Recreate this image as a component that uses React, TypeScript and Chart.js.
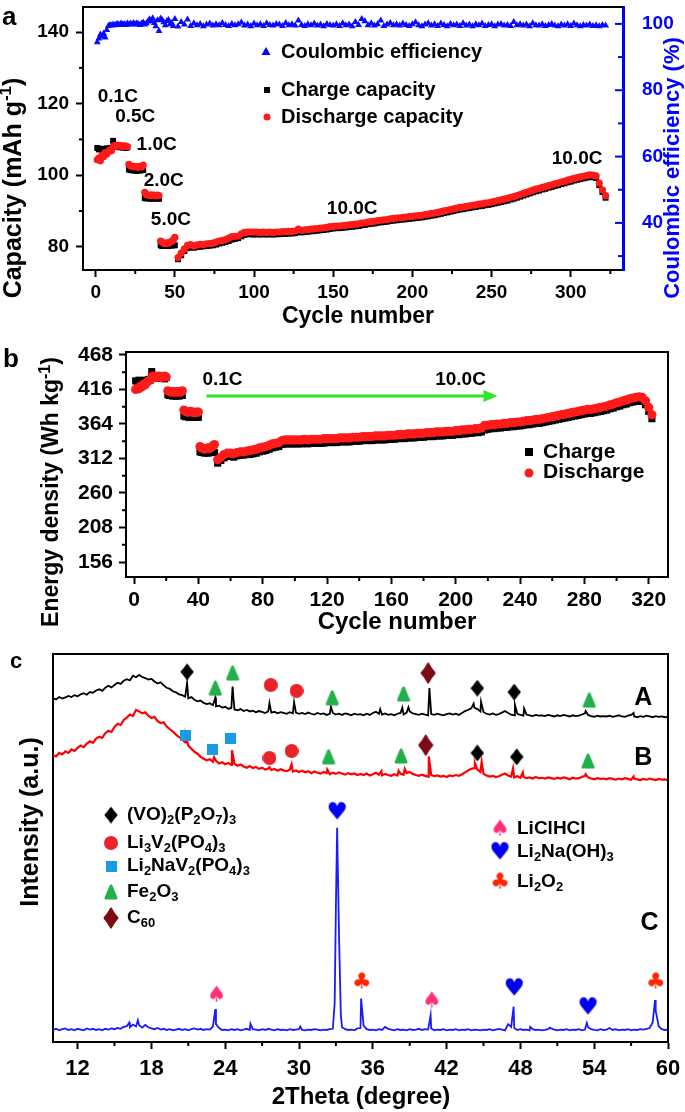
import React, { useEffect, useRef } from 'react';
import { Chart, registerables } from 'chart.js';

Chart.register(...registerables);

const FONT = "'Liberation Sans', Arial, Helvetica, sans-serif";

// ---------------- Panel a / b : cycle numbers ----------------
const cycleNumbers: number[] = [];
for (let c = 1; c <= 50; c++) cycleNumbers.push(c);
for (let c = 52; c <= 322; c += 2) cycleNumbers.push(c);

// Panel a: capacity (mAh g-1)
const capDischarge = [
  104.3, 104.8, 104.0, 105.6, 105.2, 106.3, 105.9, 106.6, 107.0, 106.8,
  108.0, 108.3, 108.1, 108.4, 108.2, 108.3, 108.0, 108.2, 108.1, 108.0,
  103.0, 102.6, 102.4, 102.5, 102.3, 102.4, 102.2, 102.5, 102.3, 102.8,
  95.2, 94.6, 94.4, 94.3, 94.5, 94.3, 94.4, 94.2, 94.4, 94.3,
  81.6, 81.3, 81.0, 80.9, 81.1, 81.0, 81.3, 81.5, 81.9, 82.6,
  77.0, 78.2, 79.4, 80.4, 80.6, 80.2, 80.5, 80.7, 80.6, 80.8,
  80.9, 81.0, 81.3, 81.6, 81.8, 82.0, 82.4, 82.8, 82.9, 83.0,
  83.6, 84.0, 84.1, 84.1, 84.1, 84.1, 84.0, 84.1, 84.0, 84.1,
  84.0, 84.1, 84.1, 84.2, 84.2, 84.3, 84.3, 84.4, 84.9, 84.6,
  84.7, 84.8, 84.9, 85.0, 85.1, 85.2, 85.3, 85.4, 85.6, 85.7,
  85.8, 85.8, 85.9, 86.0, 86.1, 86.2, 86.3, 86.4, 86.6, 86.7,
  86.9, 87.0, 87.1, 87.3, 87.4, 87.5, 87.6, 87.8, 87.9, 88.0,
  88.1, 88.2, 88.3, 88.4, 88.5, 88.6, 88.7, 88.8, 89.0, 89.1,
  89.3, 89.4, 89.6, 89.8, 90.0, 90.2, 90.4, 90.6, 90.8, 91.0,
  91.1, 91.3, 91.4, 91.6, 91.7, 91.9, 92.0, 92.2, 92.3, 92.5,
  92.7, 92.9, 93.1, 93.3, 93.5, 93.8, 94.0, 94.3, 94.6, 94.9,
  95.2, 95.5, 95.8, 96.1, 96.3, 96.6, 96.8, 97.1, 97.3, 97.6,
  97.8, 98.1, 98.3, 98.6, 98.8, 99.1, 99.3, 99.5, 99.7, 99.9,
  100.1, 100.0, 99.8, 97.8, 95.9, 94.3,
];
const capCharge = [
  107.6, 107.2, 107.4, 106.9, 107.3, 107.1, 107.5, 107.2, 107.6, 107.3,
  109.6, 108.2, 107.9, 108.1, 107.8, 108.0, 107.7, 107.9, 107.6, 107.8,
  101.6, 101.4, 101.5, 101.3, 101.4, 101.2, 101.4, 101.3, 101.5, 101.4,
  93.6, 93.5, 93.7, 93.4, 93.6, 93.5, 93.4, 93.6, 93.5, 93.4,
  80.4, 80.2, 80.5, 80.3, 80.4, 80.2, 80.5, 80.3, 80.6, 80.4,
  76.5, 77.6, 78.8, 79.6, 79.9, 79.7, 79.9, 80.0, 80.1, 80.2,
  80.3, 80.4, 80.6, 80.9, 81.1, 81.3, 81.6, 82.0, 82.2, 82.4,
  82.9, 83.3, 83.5, 83.5, 83.4, 83.5, 83.4, 83.5, 83.4, 83.5,
  83.4, 83.5, 83.5, 83.6, 83.6, 83.7, 83.7, 83.8, 84.2, 84.0,
  84.1, 84.2, 84.3, 84.4, 84.5, 84.6, 84.7, 84.8, 85.0, 85.1,
  85.2, 85.2, 85.3, 85.4, 85.5, 85.6, 85.7, 85.8, 86.0, 86.1,
  86.3, 86.4, 86.5, 86.7, 86.8, 86.9, 87.0, 87.2, 87.3, 87.4,
  87.5, 87.6, 87.7, 87.8, 87.9, 88.0, 88.1, 88.2, 88.4, 88.5,
  88.7, 88.8, 89.0, 89.2, 89.4, 89.6, 89.8, 90.0, 90.2, 90.4,
  90.5, 90.7, 90.8, 91.0, 91.1, 91.3, 91.4, 91.6, 91.7, 91.9,
  92.1, 92.3, 92.5, 92.7, 92.9, 93.2, 93.4, 93.7, 94.0, 94.3,
  94.6, 94.9, 95.2, 95.5, 95.7, 96.0, 96.2, 96.5, 96.7, 97.0,
  97.2, 97.5, 97.7, 98.0, 98.2, 98.5, 98.7, 98.9, 99.1, 99.3,
  99.5, 99.4, 99.2, 97.2, 95.3, 93.7,
];
const coulombicEff = [
  94.5, 95.6, 96.8, 96.2, 97.1, 95.9, 98.2, 99.4, 99.7, 99.5,
  99.8, 99.6, 99.9, 100.0, 99.7, 100.1, 99.8, 100.0, 99.7, 100.2,
  99.8, 100.1, 99.9, 100.3, 99.8, 100.2, 99.9, 99.7, 100.1, 100.4,
  99.8, 100.2, 100.7, 101.4, 100.9, 101.7, 100.3, 99.3, 101.1, 97.9,
  101.6, 101.2, 100.5, 99.6, 100.9, 101.2, 99.9, 100.3, 99.4, 101.5,
  99.2, 100.6, 99.8, 101.3, 99.4, 100.2, 99.6, 100.0, 99.3, 99.8,
  100.1, 99.5, 99.9, 99.6, 100.3, 99.7, 99.4, 100.0, 99.6, 99.9,
  100.4, 99.5, 99.8, 99.3, 100.1, 99.6, 99.9, 99.4, 100.2, 99.7,
  99.5, 100.0, 99.8, 99.4, 100.3, 99.6, 99.9, 99.5, 101.0, 99.7,
  99.4, 99.9, 99.6, 100.1, 99.5, 99.8, 99.3, 100.0, 99.7, 99.5,
  99.9, 99.4, 100.2, 99.6, 99.8, 99.3, 100.6, 99.7, 101.5, 100.8,
  99.6, 100.2, 99.5, 99.9, 101.0, 99.4, 99.8, 100.3, 99.6, 99.9,
  99.5, 100.1, 99.7, 99.4, 99.9, 100.5, 99.6, 99.3, 99.8, 100.2,
  99.5, 99.9, 99.4, 100.1, 99.7, 99.3, 100.0, 99.6, 99.8, 99.4,
  100.2, 99.5, 99.8, 99.3, 99.9, 99.6, 100.1, 99.4, 99.7, 99.9,
  99.3, 99.8, 100.0, 99.5, 99.7, 99.4, 100.6, 99.6, 99.9, 99.5,
  99.8, 99.3, 100.2, 99.6, 99.5, 99.9, 99.4, 99.7, 100.0, 99.5,
  99.3, 99.8, 99.5, 99.9, 99.4, 100.1, 99.6, 99.3, 99.7, 99.5,
  99.8, 99.4, 99.6, 99.3, 99.7, 99.5,
];
const capTicks = [80, 100, 120, 140];
const capMinor = [90, 110, 130];
const ceTicks = [40, 60, 80, 100];
const ceMinor = [30, 50, 70, 90];
const cycleTicksA = [0, 50, 100, 150, 200, 250, 300];
const cycleMinorA = [25, 75, 125, 175, 225, 275, 325];
const rateLabelsA = ['0.1C', '0.5C', '1.0C', '2.0C', '5.0C', '10.0C', '10.0C'];
const rateLabelCycleA = [14, 25, 38.5, 43, 47.5, 162, 304];
const rateLabelCapA = [121.8, 116.3, 108.4, 98.4, 87.4, 90.7, 104.5];

// Panel b: energy density (Wh kg-1)
const energyDischarge = [
  416, 418, 417, 421, 420, 424, 423, 427, 429, 430,
  435, 436, 434, 436, 435, 436, 434, 435, 436, 435,
  414, 413, 412, 413, 412, 413, 412, 413, 412, 414,
  385, 383, 382, 382, 383, 382, 382, 381, 382, 382,
  330, 328, 327, 326, 327, 328, 327, 329, 331, 333,
  310, 314, 318, 320, 320, 319, 321, 322, 322, 323,
  324, 325, 326, 328, 329, 330, 332, 334, 335, 336,
  339, 340, 340, 340, 340, 340, 340, 341, 340, 341,
  341, 341, 341, 342, 342, 342, 342, 342, 343, 343,
  343, 343, 344, 344, 344, 345, 345, 345, 345, 346,
  346, 346, 346, 347, 347, 347, 348, 348, 348, 349,
  349, 349, 350, 350, 350, 351, 351, 351, 352, 352,
  352, 353, 353, 353, 354, 354, 355, 355, 356, 356,
  357, 357, 358, 362, 362, 363, 363, 364, 364, 365,
  365, 366, 366, 367, 367, 368, 369, 369, 370, 371,
  371, 372, 373, 374, 375, 376, 377, 378, 379, 380,
  381, 382, 383, 384, 385, 386, 386, 387, 388, 389,
  390, 391, 393, 394, 396, 397, 399, 400, 402, 403,
  404, 405, 404, 399, 389, 378,
];
const energyCharge = [
  429, 428, 430, 427, 429, 428, 430, 429, 431, 430,
  443, 436, 434, 435, 433, 435, 433, 434, 432, 434,
  408, 407, 408, 406, 407, 406, 407, 406, 408, 407,
  376, 375, 376, 374, 375, 374, 375, 374, 375, 374,
  322, 321, 322, 320, 321, 320, 322, 321, 322, 321,
  305, 309, 313, 315, 315, 314, 316, 317, 317, 318,
  318, 319, 320, 322, 323, 324, 326, 328, 329, 330,
  333, 334, 334, 334, 334, 334, 334, 335, 334, 335,
  335, 335, 335, 335, 336, 336, 336, 336, 337, 337,
  337, 337, 338, 338, 338, 339, 339, 339, 339, 340,
  340, 340, 340, 341, 341, 341, 342, 342, 342, 343,
  343, 343, 344, 344, 344, 345, 345, 345, 346, 346,
  346, 347, 347, 347, 348, 348, 349, 349, 350, 350,
  351, 351, 352, 355, 356, 357, 357, 358, 358, 359,
  359, 360, 360, 361, 361, 362, 363, 363, 364, 365,
  365, 366, 367, 368, 369, 370, 371, 372, 373, 374,
  375, 376, 377, 378, 379, 380, 380, 381, 382, 383,
  384, 385, 387, 388, 390, 391, 393, 394, 396, 397,
  398, 399, 398, 393, 383, 372,
];
const energyTicks = [156, 208, 260, 312, 364, 416, 468];
const energyMinor = [182, 234, 286, 338, 390, 442];
const cycleTicksB = [0, 40, 80, 120, 160, 200, 240, 280, 320];
const cycleMinorB = [20, 60, 100, 140, 180, 220, 260, 300];
const rateLabelsB = ['0.1C', '10.0C'];
const rateLabelCycleB = [55, 203];
const rateLabelEnergyB = [430, 430];
const arrowCyclesB = [45, 226];
const arrowEnergyB = 406;

// ---------------- Panel c : XRD ----------------
const thetaStart = 10;
const thetaStep = 0.25;
const xrdA = [
  88.6, 88.3, 88.9, 88.5, 88.8, 89.2, 88.9, 89.4, 89.1, 89.6, 89.9, 89.5, 90.2, 90.0, 90.6, 90.9, 90.5, 91.3, 91.8, 91.4,
  92.0, 92.6, 92.3, 93.1, 93.5, 93.2, 94.4, 94.0, 94.6, 94.1, 93.8, 93.4, 93.6, 92.9, 92.4, 92.7, 91.9, 91.3, 91.0, 90.4,
  90.1, 89.6, 89.4, 89.0, 88.6, 88.9, 88.2, 87.8, 88.0, 87.4, 87.1, 87.3, 86.8, 86.5, 86.7, 86.2, 86.4, 85.9, 86.1, 85.7,
  85.5, 85.8, 85.3, 85.6, 85.2, 85.4, 85.0, 85.3, 85.1, 84.8, 85.2, 84.9, 85.1, 84.7, 85.0, 84.8, 84.6, 85.0, 84.7, 84.9,
  84.6, 84.8, 84.5, 84.9, 84.6, 84.4, 84.8, 84.5, 84.7, 84.3, 84.6, 84.8, 84.4, 84.6, 84.3, 84.7, 84.5, 84.2, 84.6, 84.4,
  84.5, 84.2, 84.6, 84.3, 84.8, 85.1, 84.6, 84.4, 84.7, 84.3, 84.5, 84.2, 84.6, 84.8, 84.4, 84.9, 85.2, 84.7, 84.5, 84.3,
  84.6, 84.4, 84.2, 84.5, 84.3, 84.6, 84.4, 84.2, 84.5, 84.7, 84.4, 84.6, 84.3, 84.8, 85.3, 85.6, 86.0, 86.2, 85.8, 85.2,
  85.0, 84.6, 84.4, 84.7, 84.3, 84.5, 84.9, 85.3, 84.8, 84.4, 84.2, 84.6, 84.3, 84.1, 84.4, 84.2, 84.0, 84.3, 84.1, 84.2,
  84.0, 84.3, 84.1, 83.9, 84.2, 84.0, 84.3, 84.1, 83.9, 84.2, 84.0, 84.1, 84.4, 84.7, 84.3, 84.0, 83.8, 84.1, 83.9, 84.0,
  83.9, 84.1, 83.8, 84.0, 84.2, 83.9, 83.8, 84.1, 84.3, 83.9, 83.7, 84.0, 83.8, 84.1, 83.9, 83.7, 84.0, 83.8, 83.9, 83.7,
  83.8,
];
const peaksAx = [20.9, 23.2, 24.6, 27.6, 29.6, 32.6, 36.6, 38.4, 38.9, 40.6, 44.2, 44.8, 47.55, 48.3, 53.3, 57.2];
const peaksAy = [92.6, 88.8, 91.6, 87.4, 87.6, 86.4, 85.8, 86.2, 86.3, 91.2, 87.2, 87.7, 87.0, 86.0, 85.3, 84.8];

const xrdB = [
  74.0, 73.6, 74.5, 74.1, 74.9, 74.5, 75.4, 75.0, 75.8, 76.4, 76.0, 76.9, 77.5, 77.1, 78.2, 78.7, 78.4, 79.6, 80.2, 79.9,
  81.2, 82.0, 81.7, 83.0, 83.6, 84.4, 84.0, 85.6, 85.2, 84.7, 85.0, 84.1, 83.5, 83.8, 82.7, 82.2, 82.4, 81.3, 80.6, 80.0,
  79.2, 78.6, 78.0, 77.2, 76.4, 75.6, 74.8, 74.3, 73.5, 73.0, 72.6, 72.9, 72.2, 72.5, 71.8, 72.1, 71.6, 71.9, 71.4, 71.7,
  71.2, 71.5, 71.0, 70.7, 71.1, 70.6, 70.9, 70.4, 70.7, 70.2, 70.5, 70.1, 70.4, 69.9, 70.3, 70.0, 69.8, 70.2, 69.7, 70.0,
  69.6, 69.9, 69.5, 69.8, 69.3, 69.7, 69.4, 69.2, 69.6, 69.3, 69.0, 69.4, 69.1, 69.5, 69.2, 68.9, 69.3, 69.0, 69.2, 68.8,
  69.1, 68.8, 69.2, 68.7, 69.0, 69.4, 68.9, 68.7, 69.1, 68.8, 68.6, 69.0, 68.7, 69.2, 68.9, 69.3, 69.6, 69.1, 68.8, 68.6,
  68.9, 68.6, 68.4, 68.8, 68.5, 68.7, 68.4, 68.6, 68.3, 68.7, 68.5, 68.8, 68.6, 69.0, 69.5, 70.0, 70.4, 70.6, 70.2, 69.6,
  69.1, 68.7, 68.4, 68.6, 68.3, 68.5, 68.9, 69.2, 68.7, 68.4, 68.2, 68.5, 68.1, 68.3, 68.0, 68.2, 67.9, 68.3, 68.0, 68.1,
  67.9, 68.2, 68.0, 67.8, 68.1, 67.9, 68.2, 68.0, 67.7, 68.1, 67.9, 68.0, 68.3, 68.6, 68.2, 67.9, 67.7, 68.0, 67.8, 67.9,
  67.7, 68.0, 67.8, 67.6, 67.9, 67.7, 68.0, 67.8, 67.6, 67.9, 67.7, 67.5, 67.8, 67.6, 67.9, 67.7, 67.5, 67.8, 67.6, 67.7,
  67.5,
];
const peaksBx = [20.8, 23.1, 24.55, 27.6, 29.4, 32.3, 36.7, 38.1, 38.6, 40.55, 44.3, 44.85, 47.4, 48.2, 53.3, 57.2];
const peaksBy = [78.8, 73.4, 75.2, 70.8, 71.6, 70.2, 69.8, 69.9, 70.4, 73.6, 71.9, 72.2, 70.5, 69.5, 69.0, 68.4];

const xrdC = [
  3.1, 3.4, 3.0, 3.3, 3.5, 3.1, 3.3, 3.0, 3.4, 3.2, 3.0, 3.5, 3.2, 3.4, 3.1, 3.3, 3.0, 3.4, 3.2, 3.5,
  3.3, 3.6, 3.4, 3.9, 4.1, 3.8, 4.5, 4.0, 4.3, 3.7, 4.4, 3.8, 3.5, 3.3, 3.6, 3.2, 3.4, 3.1, 3.3, 3.0,
  3.2, 3.4, 3.1, 3.3, 3.0, 3.3, 3.5, 3.2, 3.4, 3.1, 3.3, 3.2, 4.0, 4.6, 3.6, 3.1, 3.2, 3.0, 3.3, 3.1,
  3.3, 3.0, 3.2, 3.4, 3.1, 3.3, 3.2, 3.0, 3.3, 3.1, 3.4, 3.2, 3.0, 3.3, 3.1, 3.2, 3.0, 3.3, 3.1, 3.2,
  3.3, 3.1, 3.0, 3.2, 3.1, 3.3, 3.2, 3.0, 3.2, 3.1, 3.3, 3.4, 35.0, 28.0, 3.8, 3.3, 3.1, 3.2, 3.0, 3.5,
  3.6, 4.2, 3.3, 3.1, 3.2, 3.0, 3.3, 3.1, 3.9, 3.4, 3.2, 3.0, 3.3, 3.1, 3.2, 3.0, 3.3, 3.1, 3.2, 3.4,
  3.1, 3.3, 3.2, 3.5, 3.0, 3.2, 3.1, 3.3, 3.0, 3.2, 3.1, 3.3, 3.0, 3.2, 3.1, 3.3, 3.0, 3.2, 3.1, 3.0,
  3.2, 3.1, 3.3, 3.0, 3.2, 3.4, 3.2, 3.0, 4.6, 3.9, 3.6, 3.1, 3.3, 3.1, 3.2, 3.0, 3.3, 3.1, 3.2, 3.0,
  3.1, 3.3, 3.5, 3.2, 3.0, 3.2, 3.1, 3.3, 3.0, 3.2, 3.1, 3.3, 3.0, 3.2, 3.8, 3.3, 3.1, 3.0, 3.3, 3.1,
  3.2, 3.6, 3.1, 3.3, 3.0, 3.2, 3.1, 3.3, 3.0, 3.2, 3.1, 3.3, 3.2, 3.4, 3.6, 5.0, 8.0, 4.0, 3.3, 3.1,
  3.2,
];
const peaksCx = [16.2, 16.9, 23.2, 26.05, 30.1, 32.9, 33.1, 33.4, 35.05, 40.7, 47.45, 48.8, 50.4, 53.4, 58.95];
const peaksCy = [5.0, 5.6, 8.5, 4.7, 4.0, 10.0, 55.2, 7.0, 11.2, 6.9, 9.1, 3.9, 3.7, 4.9, 10.8];

const thetaTicks = [12, 18, 24, 30, 36, 42, 48, 54, 60];
const thetaMinor = [15, 21, 27, 33, 39, 45, 51, 57];

// phase markers: [2theta, intensity]
const markVOP = [[20.9, 95.4], [44.5, 91.2], [47.5, 90.2], [44.5, 74.5], [47.7, 73.5]];
const markLVP = [[27.7, 92.0], [29.8, 90.5], [27.6, 73.2], [29.4, 75.0]];
const markLNVP = [[20.8, 78.9], [23.0, 75.3], [24.4, 78.1]];
const markFe2O3 = [[23.2, 91.2], [24.6, 95.1], [32.7, 88.7], [38.5, 89.7], [53.6, 88.1], [32.4, 73.5], [38.3, 73.7], [53.5, 72.4]];
const markC60 = [[40.5, 95.1], [40.3, 76.5]];
const markLiClHCl = [[23.3, 12.1], [40.8, 10.6]];
const markLi2NaOH3 = [[33.1, 59.3], [47.5, 13.9], [53.5, 9.0]];
const markLi2O2 = [[35.1, 15.5], [59.0, 15.5]];
const patternNames = ['A', 'B', 'C'];
const patternLabelX = [58.0, 58.0, 58.5];
const patternLabelY = [88.7, 73.2, 30.7];

type Part = { t: string; s?: 'sub' | 'sup' };
const legendLeftC: Part[][] = [
  [{ t: '(VO)' }, { t: '2', s: 'sub' }, { t: '(P' }, { t: '2', s: 'sub' }, { t: 'O' }, { t: '7', s: 'sub' }, { t: ')' }, { t: '3', s: 'sub' }],
  [{ t: 'Li' }, { t: '3', s: 'sub' }, { t: 'V' }, { t: '2', s: 'sub' }, { t: '(PO' }, { t: '4', s: 'sub' }, { t: ')' }, { t: '3', s: 'sub' }],
  [{ t: 'Li' }, { t: '2', s: 'sub' }, { t: 'NaV' }, { t: '2', s: 'sub' }, { t: '(PO' }, { t: '4', s: 'sub' }, { t: ')' }, { t: '3', s: 'sub' }],
  [{ t: 'Fe' }, { t: '2', s: 'sub' }, { t: 'O' }, { t: '3', s: 'sub' }],
  [{ t: 'C' }, { t: '60', s: 'sub' }],
];
const legendRightC: Part[][] = [
  [{ t: 'LiClHCl' }],
  [{ t: 'Li' }, { t: '2', s: 'sub' }, { t: 'Na(OH)' }, { t: '3', s: 'sub' }],
  [{ t: 'Li' }, { t: '2', s: 'sub' }, { t: 'O' }, { t: '2', s: 'sub' }],
];

// ---------------- helpers ----------------
function rich(ctx: CanvasRenderingContext2D, parts: Part[], x: number, y: number, size: number, color: string,
  align: 'left' | 'center' = 'center', rot = 0) {
  ctx.save();
  ctx.translate(x, y);
  if (rot) ctx.rotate(rot);
  ctx.fillStyle = color;
  ctx.textBaseline = 'middle';
  ctx.textAlign = 'left';
  const fontFor = (p: Part) => `bold ${p.s ? Math.round(size * 0.68) : size}px ${FONT}`;
  let total = 0;
  for (const p of parts) { ctx.font = fontFor(p); total += ctx.measureText(p.t).width; }
  let cx = align === 'center' ? -total / 2 : 0;
  for (const p of parts) {
    ctx.font = fontFor(p);
    const dy = p.s === 'sub' ? size * 0.28 : p.s === 'sup' ? -size * 0.3 : 0;
    ctx.fillText(p.t, cx, dy);
    cx += ctx.measureText(p.t).width;
  }
  ctx.restore();
}

function seg(ctx: CanvasRenderingContext2D, x1: number, y1: number, x2: number, y2: number) {
  ctx.beginPath(); ctx.moveTo(x1, y1); ctx.lineTo(x2, y2); ctx.stroke();
}

function letter(ctx: CanvasRenderingContext2D, s: string, x: number, y: number, size: number) {
  ctx.save();
  ctx.font = `bold ${size}px ${FONT}`;
  ctx.fillStyle = '#000';
  ctx.textAlign = 'left';
  ctx.textBaseline = 'alphabetic';
  ctx.fillText(s, x, y);
  ctx.restore();
}

function mkCanvas(w: number, h: number) {
  const c = document.createElement('canvas');
  c.width = w; c.height = h;
  return c;
}
function diamondMark(w: number, h: number, color: string) {
  const c = mkCanvas(w, h); const g = c.getContext('2d')!;
  g.fillStyle = color; g.strokeStyle = color; g.lineJoin = 'round'; g.lineWidth = 2;
  g.beginPath();
  g.moveTo(w / 2, 1.5);
  g.quadraticCurveTo(w * 0.68, h * 0.32, w - 1.5, h / 2);
  g.quadraticCurveTo(w * 0.68, h * 0.68, w / 2, h - 1.5);
  g.quadraticCurveTo(w * 0.32, h * 0.68, 1.5, h / 2);
  g.quadraticCurveTo(w * 0.32, h * 0.32, w / 2, 1.5);
  g.closePath();
  g.fill(); g.stroke();
  return c;
}
function triangleMark(w: number, h: number, color: string) {
  const c = mkCanvas(w, h); const g = c.getContext('2d')!;
  g.fillStyle = color; g.strokeStyle = color; g.lineJoin = 'round'; g.lineWidth = 3;
  g.beginPath(); g.moveTo(w / 2, 2); g.lineTo(w - 2, h - 2); g.lineTo(2, h - 2); g.closePath();
  g.fill(); g.stroke();
  return c;
}
function circleMark(d: number, color: string) {
  const c = mkCanvas(d, d); const g = c.getContext('2d')!;
  g.fillStyle = color; g.beginPath(); g.arc(d / 2, d / 2, d / 2, 0, Math.PI * 2); g.fill();
  return c;
}
function squareMark(s: number, color: string) {
  const c = mkCanvas(s, s); const g = c.getContext('2d')!;
  g.fillStyle = color; g.fillRect(0, 0, s, s);
  return c;
}
function glyphMark(ch: string, size: number, color: string) {
  const c = mkCanvas(Math.round(size * 0.95), Math.round(size * 1.05)); const g = c.getContext('2d')!;
  g.fillStyle = color; g.font = `${size}px 'DejaVu Sans'`;
  g.textAlign = 'center'; g.textBaseline = 'middle';
  g.fillText(ch, c.width / 2, c.height / 2 + 1);
  return c;
}

function noPad(s: any) {
  s.paddingLeft = 0; s.paddingRight = 0; s.paddingTop = 0; s.paddingBottom = 0;
}
function xAxis(min: number, max: number, ticks: number[], size: number, padding: number, height: number) {
  return {
    type: 'linear', position: 'bottom', min, max,
    afterBuildTicks: (s: any) => { s.ticks = ticks.map((v) => ({ value: v })); },
    afterFit: (s: any) => { s.height = height; noPad(s); },
    ticks: { color: '#000', font: { family: FONT, size, weight: 'bold' }, padding, maxRotation: 0, autoSkip: false },
    grid: { display: true, drawOnChartArea: false, drawTicks: true, tickLength: 7, tickWidth: 2, tickColor: '#000' },
    border: { display: true, color: '#000', width: 2 },
  };
}
function yAxis(min: number, max: number, ticks: number[], size: number, padding: number, width: number) {
  return {
    type: 'linear', position: 'left', min, max,
    afterBuildTicks: (s: any) => { s.ticks = ticks.map((v) => ({ value: v })); },
    afterFit: (s: any) => { s.width = width; noPad(s); },
    ticks: { color: '#000', font: { family: FONT, size, weight: 'bold' }, padding, autoSkip: false },
    grid: { display: true, drawOnChartArea: false, drawTicks: true, tickLength: 7, tickWidth: 2, tickColor: '#000' },
    border: { display: true, color: '#000', width: 2 },
  };
}
const pts = (xs: number[], ys: number[]) => xs.map((x, i) => ({ x, y: ys[i] }));

function xrdLine(vals: number[], px: number[], py: number[]) {
  const grid = vals.map((v, i) => ({ x: thetaStart + i * thetaStep, y: v }));
  return grid.concat(pts(px, py)).sort((a, b) => a.x - b.x);
}

// ---------------- chart configs ----------------
function configA(): any {
  const decor = {
    id: 'decorA',
    afterDraw(chart: any) {
      const { ctx, chartArea: ca, scales } = chart;
      const x = scales.x, y = scales.y, y1 = scales.y1;
      ctx.save();
      ctx.strokeStyle = '#000'; ctx.lineWidth = 2;
      seg(ctx, ca.left - 1, ca.top, ca.right, ca.top);
      cycleMinorA.forEach((v) => { const p = x.getPixelForValue(v); seg(ctx, p, ca.bottom, p, ca.bottom + 4); });
      capMinor.forEach((v) => { const p = y.getPixelForValue(v); seg(ctx, ca.left - 4, p, ca.left, p); });
      ctx.strokeStyle = '#0000ff';
      ceTicks.forEach((v) => { const p = y1.getPixelForValue(v); seg(ctx, ca.right - 8, p, ca.right, p); });
      ceMinor.forEach((v) => { const p = y1.getPixelForValue(v); seg(ctx, ca.right - 5, p, ca.right, p); });
      rateLabelsA.forEach((s, i) => rich(ctx, [{ t: s }], x.getPixelForValue(rateLabelCycleA[i]), y.getPixelForValue(rateLabelCapA[i]), 19, '#000'));
      // legend
      ctx.fillStyle = '#0000ff';
      ctx.beginPath(); ctx.moveTo(266, 47); ctx.lineTo(270.5, 55); ctx.lineTo(261.5, 55); ctx.closePath(); ctx.fill();
      rich(ctx, [{ t: 'Coulombic efficiency' }], 281, 52, 20, '#000', 'left');
      ctx.fillStyle = '#000'; ctx.fillRect(264, 87, 6, 6);
      rich(ctx, [{ t: 'Charge capacity' }], 281, 90, 20, '#000', 'left');
      ctx.fillStyle = '#ff1a1a'; ctx.beginPath(); ctx.arc(267, 117, 3.5, 0, Math.PI * 2); ctx.fill();
      rich(ctx, [{ t: 'Discharge capacity' }], 281, 117, 20, '#000', 'left');
      // titles
      rich(ctx, [{ t: 'Cycle number' }], 358, 317, 23, '#000');
      rich(ctx, [{ t: 'Capacity (mAh g' }, { t: '-1', s: 'sup' }, { t: ')' }], 14, 188, 25, '#000', 'center', -Math.PI / 2);
      rich(ctx, [{ t: 'Coulombic efficiency (%)' }], 673, 168, 22, '#0000ff', 'center', -Math.PI / 2);
      letter(ctx, 'a', 2, 25, 26);
      ctx.restore();
    },
  };
  return {
    type: 'scatter',
    data: {
      datasets: [
        { data: pts(cycleNumbers, capDischarge), yAxisID: 'y', pointStyle: 'circle', pointRadius: 3.6, pointBackgroundColor: '#ff1a1a', pointBorderColor: '#ff1a1a', pointBorderWidth: 0 },
        { data: pts(cycleNumbers, capCharge), yAxisID: 'y', pointStyle: 'rect', pointRadius: 4.2, pointBackgroundColor: '#000', pointBorderColor: '#000', pointBorderWidth: 0 },
        { data: pts(cycleNumbers, coulombicEff), yAxisID: 'y1', pointStyle: 'triangle', pointRadius: 4, pointBackgroundColor: '#0a0aff', pointBorderColor: '#0a0aff', pointBorderWidth: 0 },
      ],
    },
    options: {
      animation: false, responsive: false, events: [],
      layout: { padding: { top: 7, left: 0, right: 0, bottom: 0 } },
      plugins: { legend: { display: false }, tooltip: { enabled: false } },
      scales: {
        x: xAxis(-8, 333, cycleTicksA, 19, 4, 65),
        y: yAxis(73.5, 147, capTicks, 19, 7, 83),
        y1: {
          type: 'linear', position: 'right', min: 25.8, max: 105.1,
          afterBuildTicks: (s: any) => { s.ticks = ceTicks.map((v) => ({ value: v })); },
          afterFit: (s: any) => { s.width = 62; noPad(s); },
          ticks: { color: '#0000ff', font: { family: FONT, size: 19, weight: 'bold' }, padding: 11, autoSkip: false },
          grid: { display: false },
          border: { display: true, color: '#0000ff', width: 3 },
        },
      },
    },
    plugins: [decor],
  };
}

function configB(): any {
  const decor = {
    id: 'decorB',
    afterDraw(chart: any) {
      const { ctx, chartArea: ca, scales } = chart;
      const x = scales.x, y = scales.y;
      ctx.save();
      ctx.strokeStyle = '#000'; ctx.lineWidth = 2;
      seg(ctx, ca.left - 1, ca.top, ca.right + 1, ca.top);
      seg(ctx, ca.right, ca.top, ca.right, ca.bottom + 1);
      cycleMinorB.forEach((v) => { const p = x.getPixelForValue(v); seg(ctx, p, ca.bottom, p, ca.bottom + 4); });
      energyMinor.forEach((v) => { const p = y.getPixelForValue(v); seg(ctx, ca.left - 4, p, ca.left, p); });
      // arrow
      const ax1 = x.getPixelForValue(arrowCyclesB[0]);
      const ax2 = x.getPixelForValue(arrowCyclesB[1]);
      const ay = y.getPixelForValue(arrowEnergyB);
      ctx.strokeStyle = '#2ee62e'; ctx.fillStyle = '#2ee62e'; ctx.lineWidth = 3;
      seg(ctx, ax1, ay, ax2 - 10, ay);
      ctx.beginPath(); ctx.moveTo(ax2, ay); ctx.lineTo(ax2 - 14, ay - 6); ctx.lineTo(ax2 - 14, ay + 6); ctx.closePath(); ctx.fill();
      rateLabelsB.forEach((s, i) => rich(ctx, [{ t: s }], x.getPixelForValue(rateLabelCycleB[i]), y.getPixelForValue(rateLabelEnergyB[i]), 19, '#000'));
      // legend
      ctx.fillStyle = '#000'; ctx.fillRect(525, 113, 8, 8);
      rich(ctx, [{ t: 'Charge' }], 543, 117, 21, '#000', 'left');
      ctx.fillStyle = '#ff1a1a'; ctx.beginPath(); ctx.arc(529, 138, 4.5, 0, Math.PI * 2); ctx.fill();
      rich(ctx, [{ t: 'Discharge' }], 543, 137, 21, '#000', 'left');
      rich(ctx, [{ t: 'Cycle number' }], 397, 287, 24, '#000');
      rich(ctx, [{ t: 'Energy density (Wh kg' }, { t: '-1', s: 'sup' }, { t: ')' }], 52, 157, 23, '#000', 'center', -Math.PI / 2);
      letter(ctx, 'b', 3, 32, 26);
      ctx.restore();
    },
  };
  return {
    type: 'scatter',
    data: {
      datasets: [
        { data: pts(cycleNumbers, energyDischarge), pointStyle: 'circle', pointRadius: 4.6, pointBackgroundColor: '#ff1a1a', pointBorderColor: '#ff1a1a', pointBorderWidth: 0 },
        { data: pts(cycleNumbers, energyCharge), pointStyle: 'rect', pointRadius: 5, pointBackgroundColor: '#000', pointBorderColor: '#000', pointBorderWidth: 0 },
      ],
    },
    options: {
      animation: false, responsive: false, events: [],
      layout: { padding: { top: 17, left: 0, right: 17, bottom: 0 } },
      plugins: { legend: { display: false }, tooltip: { enabled: false } },
      scales: {
        x: xAxis(-5, 332, cycleTicksB, 21, 4, 63),
        y: yAxis(133.4, 472.5, energyTicks, 21, 6, 126),
      },
    },
    plugins: [decor],
  };
}

function configC(): any {
  const mk = {
    vop: diamondMark(14, 17, '#000000'),
    lvp: circleMark(14, '#e8242a'),
    lnvp: squareMark(11, '#1b9ce2'),
    fe: triangleMark(14, 16, '#22b04a'),
    c60: diamondMark(16, 22, '#7a0c14'),
    spade: glyphMark('\u2660', 22, '#ff2f7a'),
    heart: glyphMark('\u2665', 24, '#0000ee'),
    club: glyphMark('\u2663', 22, '#ff2400'),
  };
  const markerSet = (list: number[][], style: any) => ({
    data: list.map((p) => ({ x: p[0], y: p[1] })), pointStyle: style, pointRadius: 8, showLine: false, clip: false,
  });
  const decor = {
    id: 'decorC',
    afterDraw(chart: any) {
      const { ctx, chartArea: ca, scales } = chart;
      const x = scales.x, y = scales.y;
      ctx.save();
      ctx.strokeStyle = '#000'; ctx.lineWidth = 2;
      seg(ctx, ca.left - 1, ca.top, ca.right + 1, ca.top);
      seg(ctx, ca.right, ca.top, ca.right, ca.bottom + 1);
      thetaMinor.forEach((v) => { const p = x.getPixelForValue(v); seg(ctx, p, ca.bottom, p, ca.bottom + 4); });
      patternNames.forEach((s, i) => rich(ctx, [{ t: s }], x.getPixelForValue(patternLabelX[i]), y.getPixelForValue(patternLabelY[i]), 25, '#000'));
      // legend
      const leftSyms = [mk.vop, mk.lvp, mk.lnvp, mk.fe, mk.c60];
      const leftRows = [175, 203, 226, 252, 278];
      leftSyms.forEach((c, i) => {
        ctx.drawImage(c, 111 - c.width / 2, leftRows[i] - c.height / 2);
        rich(ctx, legendLeftC[i], 127, leftRows[i], 19, '#000', 'left');
      });
      const rightSyms = [mk.spade, mk.heart, mk.club];
      const rightRows = [189, 212, 242];
      rightSyms.forEach((c, i) => {
        ctx.drawImage(c, 500 - c.width / 2, rightRows[i] - c.height / 2);
        rich(ctx, legendRightC[i], 517, rightRows[i], 19, '#000', 'left');
      });
      rich(ctx, [{ t: '2Theta (degree)' }], 361, 457, 24, '#000');
      rich(ctx, [{ t: 'Intensity (a.u.)' }], 31, 182, 25, '#000', 'center', -Math.PI / 2);
      letter(ctx, 'c', 10, 28, 22);
      ctx.restore();
    },
  };
  return {
    type: 'scatter',
    data: {
      datasets: [
        markerSet(markVOP, mk.vop),
        markerSet(markLVP, mk.lvp),
        markerSet(markLNVP, mk.lnvp),
        markerSet(markFe2O3, mk.fe),
        markerSet(markC60, mk.c60),
        markerSet(markLiClHCl, mk.spade),
        markerSet(markLi2NaOH3, mk.heart),
        markerSet(markLi2O2, mk.club),
        { data: xrdLine(xrdA, peaksAx, peaksAy), showLine: true, pointRadius: 0, borderColor: '#000', borderWidth: 1.8 },
        { data: xrdLine(xrdB, peaksBx, peaksBy), showLine: true, pointRadius: 0, borderColor: '#ff0000', borderWidth: 2.2 },
        { data: xrdLine(xrdC, peaksCx, peaksCy), showLine: true, pointRadius: 0, borderColor: '#1a1aff', borderWidth: 1.8 },
      ],
    },
    options: {
      animation: false, responsive: false, events: [],
      layout: { padding: { top: 14, left: 0, right: 17, bottom: 0 } },
      plugins: { legend: { display: false }, tooltip: { enabled: false } },
      scales: {
        x: xAxis(10, 60, thetaTicks, 22, 7, 70),
        y: {
          type: 'linear', position: 'left', min: 0, max: 100,
          afterFit: (s: any) => { s.width = 53; noPad(s); },
          ticks: { display: false },
          grid: { display: false },
          border: { display: true, color: '#000', width: 2 },
        },
      },
    },
    plugins: [decor],
  };
}

export default function App() {
  const refA = useRef<HTMLCanvasElement>(null);
  const refB = useRef<HTMLCanvasElement>(null);
  const refC = useRef<HTMLCanvasElement>(null);
  useEffect(() => {
    document.body.style.margin = '0';
    const charts = [
      new Chart(refA.current!, configA()),
      new Chart(refB.current!, configB()),
      new Chart(refC.current!, configC()),
    ];
    return () => charts.forEach((c) => c.destroy());
  }, []);
  return (
    <div style={{ position: 'relative', width: 685, height: 1112, background: '#fff', overflow: 'hidden' }}>
      <canvas ref={refA} width={685} height={335} style={{ position: 'absolute', left: 0, top: 0, width: 685, height: 335 }} />
      <canvas ref={refB} width={685} height={305} style={{ position: 'absolute', left: 0, top: 335, width: 685, height: 305 }} />
      <canvas ref={refC} width={685} height={472} style={{ position: 'absolute', left: 0, top: 640, width: 685, height: 472 }} />
    </div>
  );
}
